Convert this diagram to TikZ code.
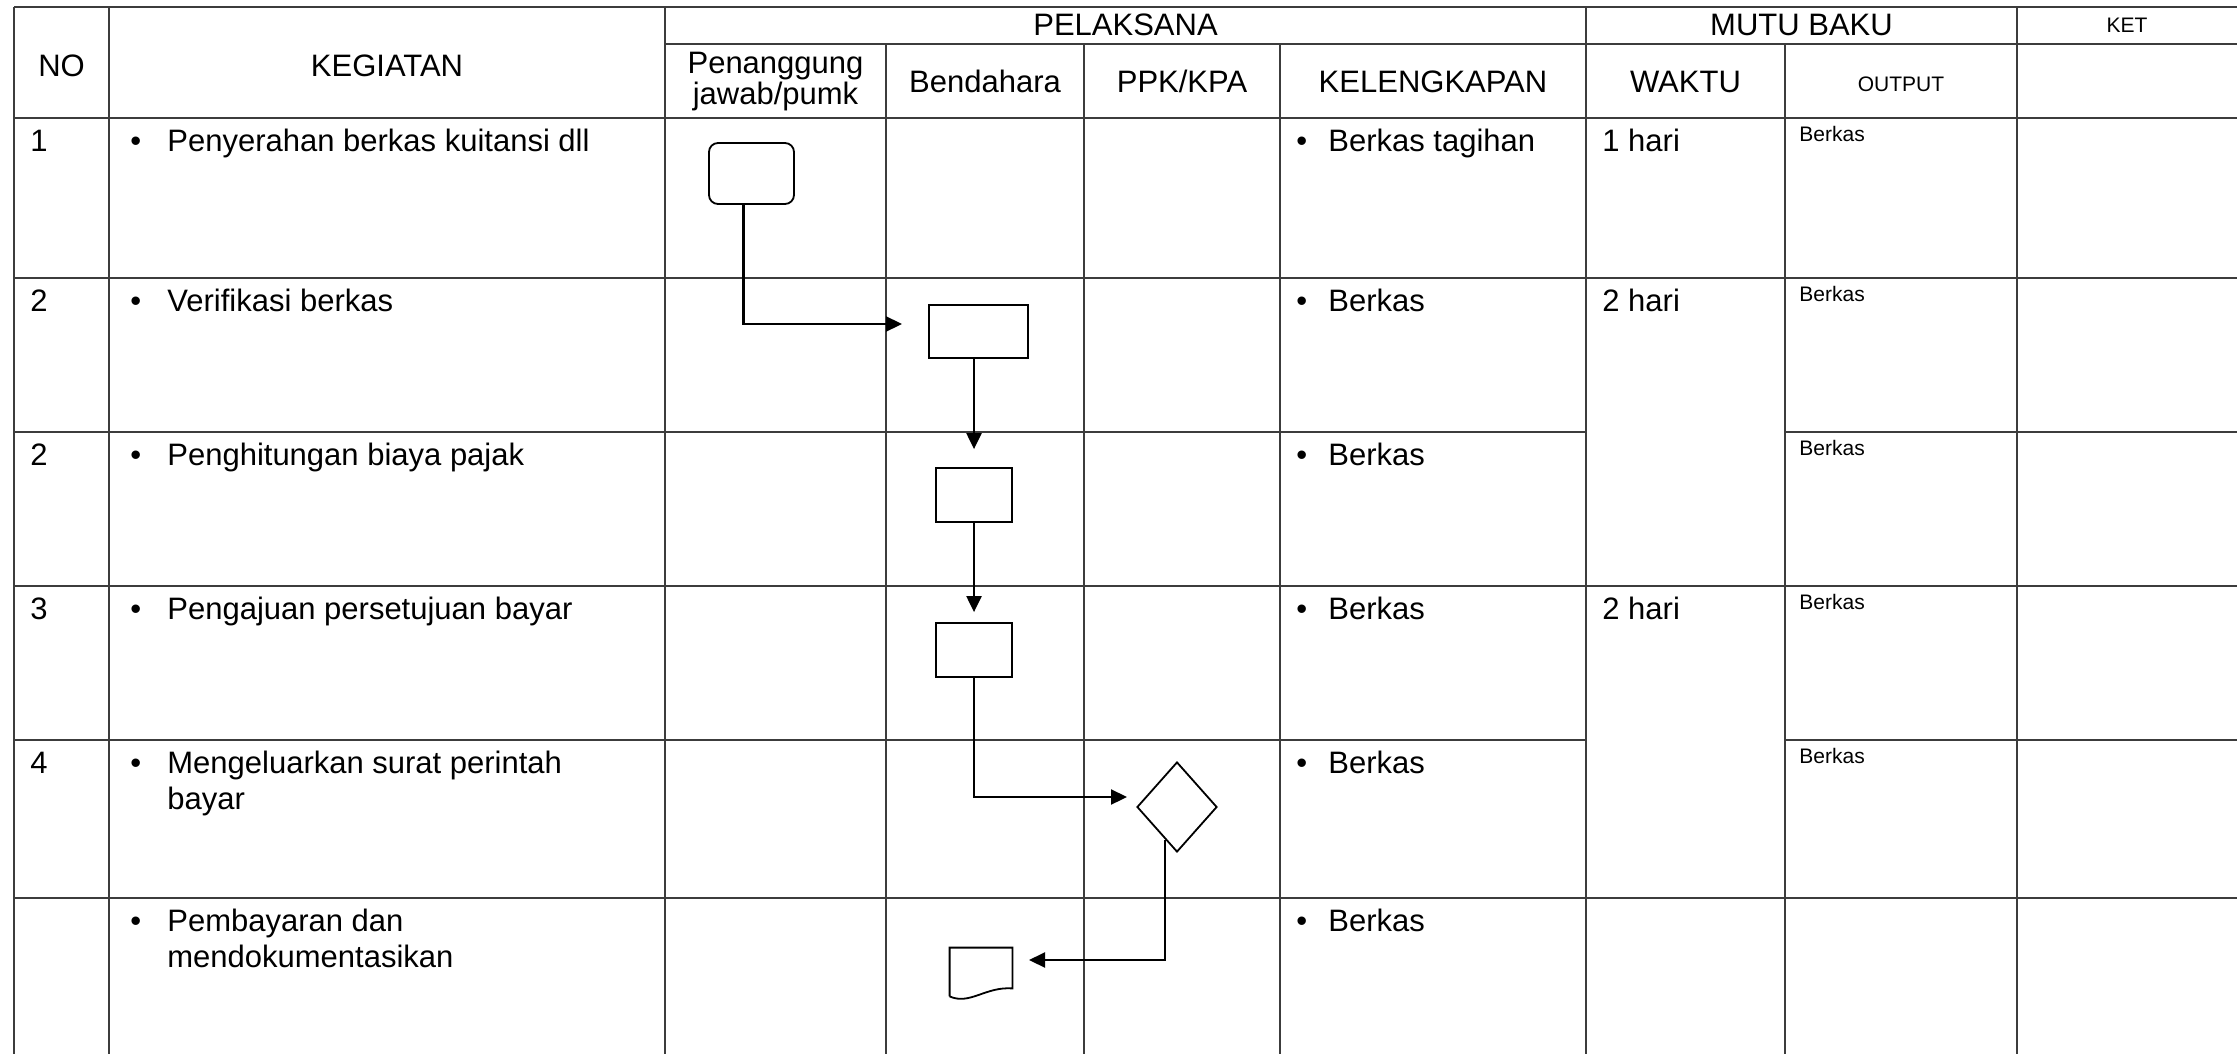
\documentclass[tikz,border=0pt]{standalone}
\usepackage{fontspec}
\setmainfont{Liberation Sans}
\usetikzlibrary{positioning, arrows.meta, shapes.geometric, calc}
\definecolor{gridgray}{RGB}{60,60,60}
\newcommand{\itembul}[1][18.5pt]{\makebox[#1][l]{\textbullet}}
\tikzset{
  tabline/.style={draw=gridgray, line width=0.65pt},
  hd/.style={font=\fontsize{15.5}{18}\selectfont, inner sep=0, anchor=base},
  txt/.style={font=\fontsize{15.5}{18}\selectfont, inner sep=0, anchor=base west},
  smalltxt/.style={font=\fontsize{10.5}{12}\selectfont, inner sep=0, anchor=base west},
  term/.style={rectangle, rounded corners=4.5pt, draw, line width=0.9pt,
    minimum width=42.5pt, minimum height=30.5pt, inner sep=0},
  proc/.style={rectangle, draw, line width=0.9pt, minimum width=38pt, minimum height=27pt, inner sep=0},
  dec/.style={diamond, draw, line width=0.9pt, aspect=0.89, minimum width=40pt, minimum height=45pt, inner sep=0},
  docbox/.style={rectangle, minimum width=31pt, minimum height=24pt, inner sep=0},
  flow/.style={-{Triangle[length=8pt, width=7.5pt]}, line width=1.1pt},
}

\begin{document}
\begin{tikzpicture}[x=0.5pt, y=-0.5pt]
  \useasboundingbox (0,0) rectangle (2237,1054);
  % table
  \draw[tabline] (14,7) -- (2237,7);
  \draw[tabline] (665,44) -- (2237,44);
  \foreach \y in {118,278,586,898} \draw[tabline] (14,\y) -- (2237,\y);
  \foreach \y in {432,740} {
    \draw[tabline] (14,\y) -- (1586,\y);
    \draw[tabline] (1785,\y) -- (2237,\y);
  }
  \foreach \x in {14,109,665,1586,2017} \draw[tabline] (\x,7) -- (\x,1054);
  \foreach \x in {886,1084,1280,1785} \draw[tabline] (\x,44) -- (\x,1054);

  % header
  \node[hd] (hNo) at (61.5,77) {NO};
  \node[hd] (hKeg) at (387,77) {KEGIATAN};
  \node[hd] (hPel) at (1125.5,36) {PELAKSANA};
  \node[hd] (hMutu) at (1801.5,36) {MUTU BAKU};
  \node[hd, font=\fontsize{10.5}{12}\selectfont] (hKet) at (2127,33) {KET};
  \node[hd, anchor=center, align=center, font=\fontsize{15.5}{13}\selectfont] (hPj) at (775.5,82) {Penanggung\\jawab/pumk};
  \node[hd] (hBen) at (985,93) {Bendahara};
  \node[hd] (hPpk) at (1182,93) {PPK/KPA};
  \node[hd] (hKel) at (1433,93) {KELENGKAPAN};
  \node[hd] (hWak) at (1685.5,93) {WAKTU};
  \node[hd, font=\fontsize{10.5}{12}\selectfont] (hOut) at (1901,91) {OUTPUT};

  % rows
  \node[txt] (n1) at (30,151) {1};
  \node[txt] (n2) at (30,311) {2};
  \node[txt] (n3) at (30,465) {2};
  \node[txt] (n4) at (30,619) {3};
  \node[txt] (n5) at (30,773) {4};

  \node[txt] (k1) at (130,151) {\itembul Penyerahan berkas kuitansi dll};
  \node[txt] (k2) at (130,311) {\itembul Verifikasi berkas};
  \node[txt] (k3) at (130,465) {\itembul Penghitungan biaya pajak};
  \node[txt] (k4) at (130,619) {\itembul Pengajuan persetujuan bayar};
  \node[txt] (k5) at (130,773) {\itembul Mengeluarkan surat perintah};
  \node[txt] (k5b) at (167,809) {bayar};
  \node[txt] (k6) at (130,931) {\itembul Pembayaran dan};
  \node[txt] (k6b) at (167,967) {mendokumentasikan};

  \node[txt] (l1) at (1296,151) {\itembul[16pt]Berkas tagihan};
  \node[txt] (l2) at (1296,311) {\itembul[16pt]Berkas};
  \node[txt] (l3) at (1296,465) {\itembul[16pt]Berkas};
  \node[txt] (l4) at (1296,619) {\itembul[16pt]Berkas};
  \node[txt] (l5) at (1296,773) {\itembul[16pt]Berkas};
  \node[txt] (l6) at (1296,931) {\itembul[16pt]Berkas};

  \node[txt] (w1) at (1602,151) {1 hari};
  \node[txt] (w2) at (1602,311) {2 hari};
  \node[txt] (w4) at (1602,619) {2 hari};

  \node[smalltxt] (o1) at (1799,141) {Berkas};
  \node[smalltxt] (o2) at (1799,301) {Berkas};
  \node[smalltxt] (o3) at (1799,455) {Berkas};
  \node[smalltxt] (o4) at (1799,609) {Berkas};
  \node[smalltxt] (o5) at (1799,763) {Berkas};

  % flow
  \node[term] (start) at (751.5,173.5) {};
  \node[proc, minimum width=49.5pt, minimum height=26.5pt] (verif) at (978.5,331.5) {};
  \node[proc] (hitung) at (974,495) {};
  \node[proc] (ajuan) at (974,650) {};
  \node[dec] (spm) at (1177,807) {};
  \node[docbox] (doc) at (981,972) {};
  \draw[line width=0.9pt] (doc.south west) -- (doc.north west) -- (doc.north east)
    -- ([yshift=4pt]doc.south east) .. controls +(-27,-2) and +(20,9) .. (doc.south west);

  \coordinate (t1) at (902,324);
  \coordinate (t4) at (1127,797);
  \coordinate (t5) at (1029,960);
  \draw[flow] ([xshift=-4pt]start.south) |- (t1);
  \draw[flow] (verif.south -| hitung) -- ([yshift=9pt]hitung.north);
  \draw[flow] (hitung.south) -- ([yshift=5pt]ajuan.north);
  \draw[flow] (ajuan.south) |- (t4);
  \draw[flow] (spm.-110) |- (t5);
\end{tikzpicture}
\end{document}
